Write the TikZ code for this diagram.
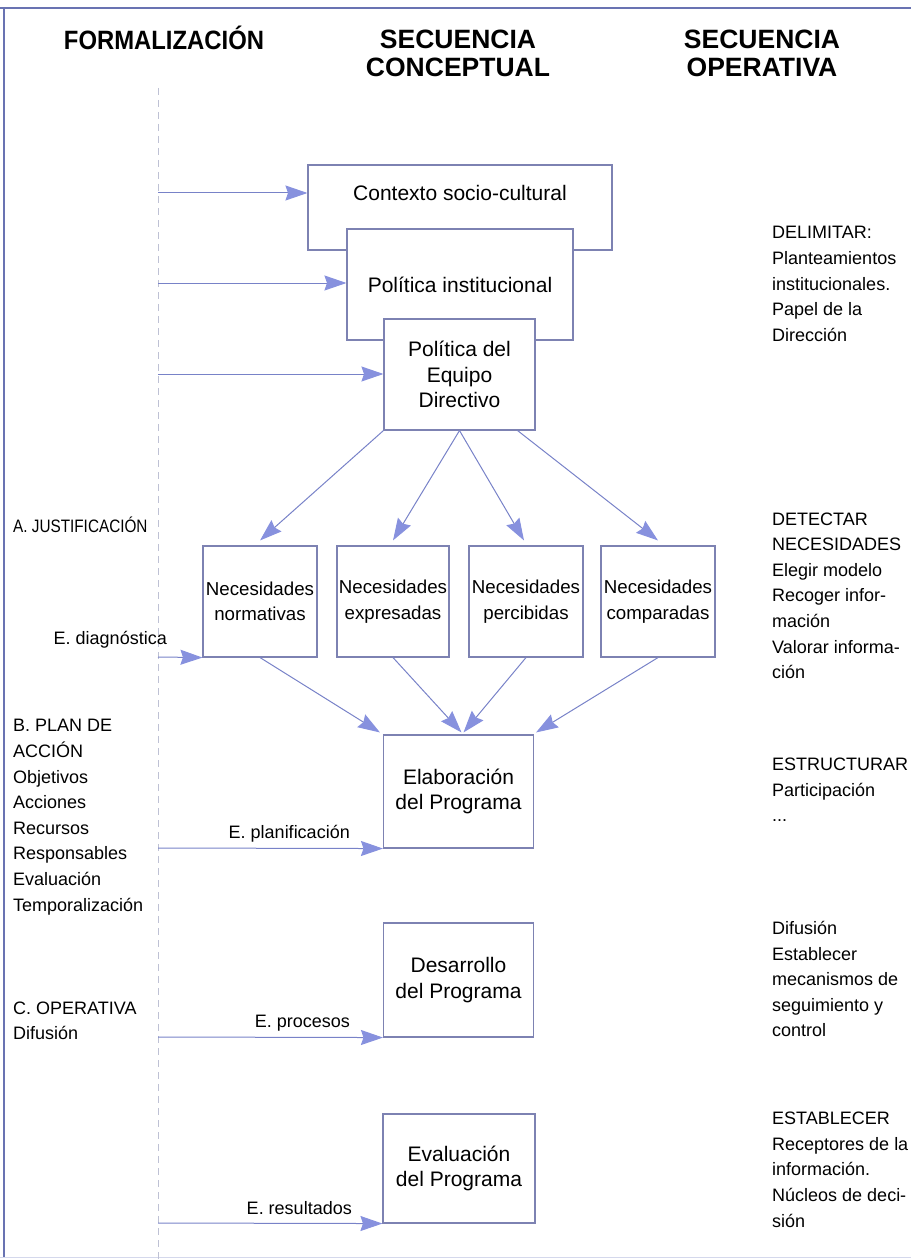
\documentclass[tikz,border=0pt]{standalone}
\usepackage{fontspec}
\setmainfont{Liberation Sans}
\usetikzlibrary{arrows.meta,calc}
\definecolor{boxcol}{RGB}{125,130,178}
\definecolor{arrcol}{RGB}{120,130,200}
\definecolor{arrfill}{RGB}{135,145,222}
\definecolor{dashcol}{RGB}{190,193,212}
\definecolor{framecol}{RGB}{105,115,178}
\newcommand{\bodyfont}{\fontsize{18}{25.6}\selectfont}
\newcommand{\boxfont}{\fontsize{21}{25.5}\selectfont}
\newcommand{\needfont}{\fontsize{18.7}{25.5}\selectfont}
\newcommand{\hdrfont}{\fontsize{26.5}{28.5}\selectfont\bfseries}
\tikzset{
  box/.style={draw=boxcol, line width=1.1pt, fill=white, inner sep=0pt, align=center, font=\boxfont},
  needbox/.style={box, font=\needfont, minimum height=111pt},
  txt/.style={inner sep=0pt, font=\bodyfont},
  coltext/.style={inner sep=0pt, anchor=north west, align=left, font=\bodyfont, execute at begin node=\strut},
  hdr/.style={inner sep=0pt, font=\hdrfont, align=center},
  arr/.style={draw=arrcol, line width=1pt, -{Stealth[length=22pt,width=15pt,inset=2.5pt,color=arrfill]}},
  dashline/.style={draw=dashcol, line width=0.9pt, dash pattern=on 7pt off 5pt},
  frameline/.style={draw=framecol, line width=1.6pt}
}
\begin{document}
\begin{tikzpicture}[x=1pt,y=-1pt]
\useasboundingbox (0,0) rectangle (911,1260);
% frame
\draw[frameline] (0,8) -- (911,8);
\draw[frameline] (4,8) -- (4,1257);
\draw[draw={rgb,255:red,212;green,216;blue,236}, line width=1pt] (0,1257) -- (911,1257);
% headers
\node[hdr, anchor=base] (h1) at (164,50) {\scalebox{0.9}[1]{FORMALIZACIÓN}};
\node[hdr, anchor=north] (h2) at (458,28) {\strut SECUENCIA\\\strut CONCEPTUAL};
\node[hdr, anchor=north] (h3) at (762,28) {\strut SECUENCIA\\\strut OPERATIVA};
% dashed line
\coordinate (dtop) at (158,88);
\coordinate (dbot) at (158,1260);
\draw[dashline] (dtop) -- (dbot);
% top boxes
\node[box, minimum width=304pt, minimum height=85pt] (ctx) at (460,207.5) {};
\node[inner sep=0pt, font=\boxfont] (ctxt) at (460,193) {Contexto socio-cultural};
\node[box, minimum width=226pt, minimum height=111pt] (pol) at (460,284.5) {Política institucional};
\node[box, minimum width=151pt, minimum height=111pt] (eq) at (459.5,374.5) {Política del\\Equipo\\Directivo};
% necesidades
\node[needbox, minimum width=114pt] (n1) at (260,601.5) {Necesidades\\normativas};
\node[needbox, minimum width=112pt] (n2) at (393,601.5) {Necesidades\\expresadas};
\node[needbox, minimum width=114pt] (n3) at (526,601.5) {Necesidades\\percibidas};
\node[needbox, minimum width=114pt] (n4) at (658,601.5) {Necesidades\\comparadas};
% lower boxes
\node[box, minimum width=150pt, minimum height=113pt] (elab) at (458.5,791.5) {Elaboración\\del Programa};
\node[box, minimum width=150pt, minimum height=114pt] (des) at (458.5,980) {Desarrollo\\del Programa};
\node[box, minimum width=152pt, minimum height=109pt] (eva) at (459,1168.5) {Evaluación\\del Programa};
% horizontal arrows from the dashed line
\coordinate (s1) at (158,193);
\coordinate (s2) at (158,283);
\coordinate (s3) at (158,374);
\coordinate (s4) at (158,657);
\coordinate (s5) at (158,848);
\coordinate (s6) at (158,1037);
\coordinate (s7) at (158,1223);
\draw[arr] (s1) -- (ctx.west |- s1);
\draw[arr] (s2) -- (pol.west |- s2);
\draw[arr] (s3) -- (eq.west |- s3);
\draw[arr] (s4) -- (n1.south west);
\draw[arr] (s5) -- (elab.south west);
\draw[arr] (s6) -- (des.south west);
\draw[arr] (s7) -- (eva.south west);
% fan-out arrows
\draw[arr] (eq.south west) -- ($(n1.north)+(0,-5)$);
\draw[arr] (eq.south) -- ($(n2.north)+(0,-5)$);
\draw[arr] (eq.south) -- ($(n3.north)+(-2,-5)$);
\draw[arr] ($(eq.south east)+(-18,0)$) -- ($(n4.north)+(0,-5)$);
% fan-in arrows
\draw[arr] (n1.south) -- ($(elab.north west)+(-3,-2)$);
\draw[arr] (n2.south) -- ($(elab.north)+(3,-2)$);
\draw[arr] (n3.south) -- ($(elab.north)+(5,-2)$);
\draw[arr] (n4.south) -- ($(elab.north east)+(2,-2)$);
% arrow labels
\node[txt, anchor=base east] (ld) at (167,644) {E. diagnóstica};
\node[txt, anchor=base east] (lp) at (350,838) {E. planificación};
\node[txt, anchor=base east] (lpr) at (350,1027) {E. procesos};
\node[txt, anchor=base east] (lr) at (352,1214) {E. resultados};
% left column
\node[txt, anchor=base west] (la) at (13,532) {\scalebox{0.85}[1]{A. JUSTIFICACIÓN}};
\node[coltext] (lb) at (13,719.3) {B. PLAN DE\\ACCIÓN\\Objetivos\\Acciones\\Recursos\\Responsables\\Evaluación\\Temporalización};
\node[coltext] (lc) at (13,1001.3) {C. OPERATIVA\\Difusión};
% right column
\node[coltext] (r1) at (772,226.3) {DELIMITAR:\\Planteamientos\\institucionales.\\Papel de la\\Dirección};
\node[coltext] (r2) at (772,512.3) {DETECTAR\\NECESIDADES\\Elegir modelo\\Recoger infor-\\mación\\Valorar informa-\\ción};
\node[coltext] (r3) at (772,758) {ESTRUCTURAR\\Participación\\...};
\node[coltext] (r4) at (772,921) {Difusión\\Establecer\\mecanismos de\\seguimiento y\\control};
\node[coltext] (r5) at (772,1112) {ESTABLECER\\Receptores de la\\información.\\Núcleos de deci-\\sión};
\end{tikzpicture}
\end{document}
